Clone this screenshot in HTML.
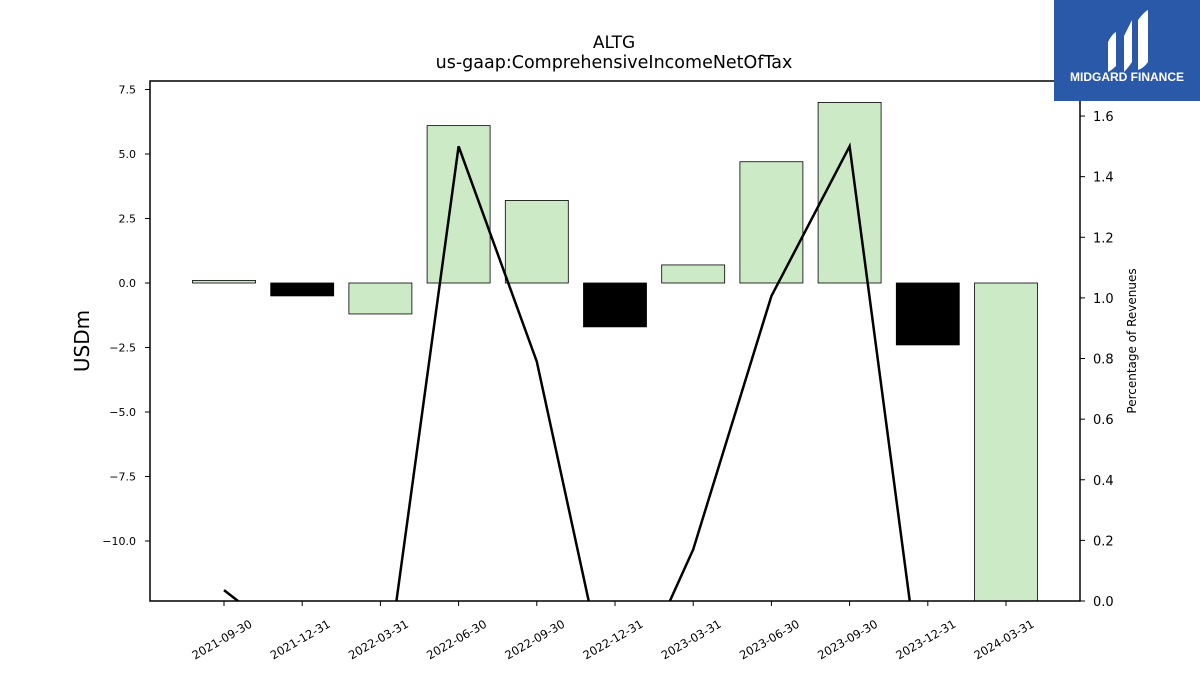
<!DOCTYPE html>
<html><head><meta charset="utf-8"><style>
html,body{margin:0;padding:0;background:#fff;overflow:hidden;width:1200px;height:675px}
svg{display:block}
</style></head><body>
<svg id="chart" width="1200" height="675" xmlns="http://www.w3.org/2000/svg" font-family="DejaVu Sans, Liberation Sans, sans-serif">
<defs><clipPath id="plotclip"><rect x="150" y="81" width="930" height="520"/></clipPath></defs>
<text x="614" y="48" text-anchor="middle" font-size="17">ALTG</text>
<text x="614" y="68" text-anchor="middle" font-size="17.5">us-gaap:ComprehensiveIncomeNetOfTax</text>
<g id="bars" clip-path="url(#plotclip)"></g>
<g id="line" clip-path="url(#plotclip)"></g>
<rect x="150" y="81" width="930" height="520" fill="none" stroke="#000" stroke-width="1.5"/>
<g id="axes"></g>
<text transform="translate(89,341) rotate(-90)" text-anchor="middle" font-size="20">USDm</text>
<text transform="translate(1136,341) rotate(-90)" text-anchor="middle" font-size="12">Percentage of Revenues</text>
<g>
<rect x="1054" y="0" width="146" height="101" fill="#2b59aa"/>
<path d="M1108 42 Q1112 34 1116 32 L1116 66 Q1112 70 1108 72 Z M1124 36 L1132 20 L1132 62 Q1128 68 1124 72 Z M1138 20 Q1144 12 1148 10 L1148 62 Q1144 68 1138 70 Z" fill="#fff"/>
<text x="1127" y="81" text-anchor="middle" font-size="12" font-weight="bold" fill="#fff" font-family="Liberation Sans, sans-serif">MIDGARD FINANCE</text>
</g>
</svg>
<script>
const categories=["2021-09-30","2021-12-31","2022-03-31","2022-06-30","2022-09-30","2022-12-31","2023-03-31","2023-06-30","2023-09-30","2023-12-31","2024-03-31"];
const barValues=[0.1,-0.5,-1.2,6.1,3.2,-1.7,0.7,4.7,7.0,-2.4,-13.0];
const barColors=["#cdeac7","#000000","#cdeac7","#cdeac7","#cdeac7","#000000","#cdeac7","#cdeac7","#cdeac7","#000000","#cdeac7"];
const pctValues=[0.036,-0.165,-0.387,1.5,0.79,-0.40,0.17,1.006,1.5,-0.45,null];
const leftTicks=[7.5,5.0,2.5,0.0,-2.5,-5.0,-7.5,-10.0];
const rightTicks=[0.0,0.2,0.4,0.6,0.8,1.0,1.2,1.4,1.6];
const NS="http://www.w3.org/2000/svg";
const x=i=>224+i*78.2;
const yL=v=>283-v*25.8;
const yR=v=>601-v*303.1;
function mk(tag,attrs,parent){const e=document.createElementNS(NS,tag);for(const k in attrs)e.setAttribute(k,attrs[k]);parent.appendChild(e);return e;}
const bars=document.getElementById('bars'),line=document.getElementById('line'),axes=document.getElementById('axes');
barValues.forEach((v,i)=>{
 const y0=yL(Math.max(v,0)),y1=yL(Math.min(v,0));
 const r=mk('rect',{x:x(i)-31.5,y:y0,width:63,height:Math.max(y1-y0,0.5),fill:barColors[i],stroke:'#000','stroke-width':0.8},bars);
 
 
});
let d='';let pen=false;
pctValues.forEach((v,i)=>{if(v===null){pen=false;return;}d+=(pen?'L':'M')+x(i)+' '+yR(v)+' ';pen=true;});
const p=mk('path',{d:d,fill:'none',stroke:'#000','stroke-width':2.5},line);


leftTicks.forEach(t=>{
 const y=yL(t);
 mk('line',{x1:145,x2:150,y1:y,y2:y,stroke:'#000'},axes);
 const tx=mk('text',{x:136,y:y+4,'text-anchor':'end','font-size':11},axes);
 tx.textContent=t.toFixed(1).replace('-','\u2212');
 
 
});
rightTicks.forEach(t=>{
 const y=yR(t);
 mk('line',{x1:1080,x2:1085,y1:y,y2:y,stroke:'#000'},axes);
 const tx=mk('text',{x:1093,y:y+5,'font-size':13},axes);
 tx.textContent=t.toFixed(1);
 
 
});
categories.forEach((c,i)=>{
 mk('line',{x1:x(i),x2:x(i),y1:601,y2:606,stroke:'#000'},axes);
 const tx=mk('text',{transform:`translate(${x(i)},${643}) rotate(-30)`,'text-anchor':'middle','font-size':11.5},axes);
 tx.textContent=c;
 
 
});
</script>
</body></html>
